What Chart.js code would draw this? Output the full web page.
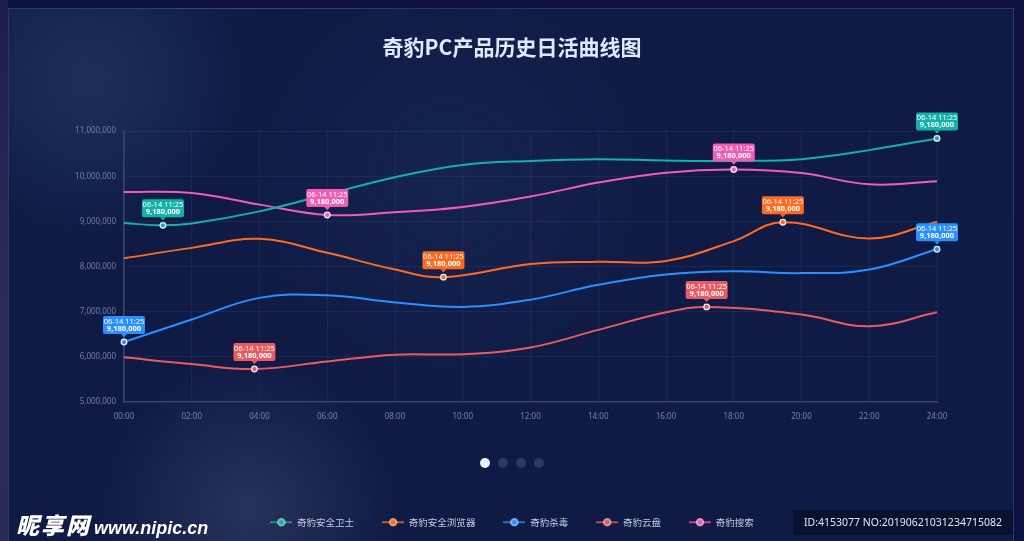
<!DOCTYPE html>
<html lang="zh">
<head>
    <meta charset="UTF-8">
    <title>奇豹PC产品历史日活曲线图</title>
    <script src="https://cdn.jsdelivr.net/npm/chart.js"></script>
    <style>
        html, body {
            margin: 0;
            padding: 0;
            width: 1024px;
            height: 541px;
            overflow: hidden;
            background: #0d1142;
            font-family: "Noto Sans", "Noto Sans CJK SC", sans-serif;
        }
        .edge {
            position: absolute;
            left: 0; top: 0; width: 8px; height: 541px;
            background: linear-gradient(180deg, #1c1d4e 0%, #2c2e58 60%, #2a2c55 100%);
        }
        .panel {
            position: absolute;
            left: 8px; top: 8px;
            width: 1006px; height: 540px;
            border: 1px solid rgba(110, 140, 200, 0.28);
            box-sizing: border-box;
            background:
                radial-gradient(circle at 80px 70px, rgba(48, 70, 120, 0.45) 0, rgba(48, 70, 120, 0) 160px),
                radial-gradient(circle at 240px 500px, rgba(70, 80, 120, 0.45) 0, rgba(70, 80, 120, 0) 150px),
                radial-gradient(circle at 440px 170px, rgba(40, 60, 110, 0.25) 0, rgba(40, 60, 110, 0) 220px),
                #0f1b45;
        }
        #chartBox {
            position: absolute;
            left: 0; top: 0;
            width: 1024px; height: 541px;
        }
        .dots {
            position: absolute;
            left: 480px; top: 458px;
            display: flex;
            gap: 8px;
        }
        .dots span {
            width: 10px; height: 10px;
            border-radius: 50%;
            background: #2d3a62;
        }
        .dots span.on { background: #e8f0ff; }
        .logo {
            position: absolute;
            left: 16px; top: 507px;
            color: #ffffff;
            white-space: nowrap;
        }
        .logo b {
            font-size: 23px;
            font-style: italic;
            font-weight: 900;
            letter-spacing: 2px;
        }
        .logo i {
            font-family: "Liberation Sans", Arial, sans-serif;
            font-size: 18px;
            font-weight: bold;
            margin-left: 3px;
        }
        .stamp {
            position: absolute;
            left: 793px; top: 510px;
            width: 220px; height: 25px;
            background: rgba(6, 14, 38, 0.7);
            color: #e4e6ec;
            font-family: "Noto Sans", sans-serif;
            font-size: 10.5px;
            line-height: 25px;
            padding-left: 11px;
            box-sizing: border-box;
            white-space: nowrap;
        }
    </style>
</head>
<body>
    <div class="edge"></div>
    <div class="panel"></div>
    <div id="chartBox"><canvas id="dauChart" width="1024" height="541"></canvas></div>
    <div class="dots"><span class="on"></span><span></span><span></span><span></span></div>
    <div class="logo"><b>昵享网</b><i>www.nipic.cn</i></div>
    <div class="stamp">ID:4153077 NO:20190621031234715082</div>

    <script>
        // series names and colours
        const seriesNames = ["奇豹安全卫士", "奇豹安全浏览器", "奇豹杀毒", "奇豹云盘", "奇豹搜索"];
        const seriesColors = ["#13b2a8", "#ff6a20", "#2a8fff", "#e95a62", "#f25cb5"];

        // values (hour of day -> daily actives)
        const guardHours = [0, 1.15, 2, 4, 6, 8, 10, 12, 14, 16, 18, 20, 22, 24];
        const guardValues = [8960000, 8910000, 8950000, 9220000, 9600000, 9980000, 10250000, 10340000, 10380000, 10350000, 10340000, 10380000, 10580000, 10840000];
        const guardMarks = [1.15, 24];

        const browserHours = [0, 2, 4, 6, 8, 9.43, 12, 14, 16, 18, 19.45, 22, 24];
        const browserValues = [8180000, 8410000, 8610000, 8300000, 7930000, 7760000, 8050000, 8100000, 8120000, 8560000, 8980000, 8620000, 8990000];
        const browserMarks = [9.43, 19.45];

        const antivirusHours = [0, 2, 4, 6, 8, 10, 12, 14, 16, 18, 20, 22, 24];
        const antivirusValues = [6320000, 6820000, 7300000, 7360000, 7200000, 7100000, 7260000, 7590000, 7820000, 7890000, 7850000, 7930000, 8380000];
        const antivirusMarks = [0, 24];

        const cloudHours = [0, 2, 3.85, 6, 8, 10, 12, 14, 16, 17.2, 20, 22, 24];
        const cloudValues = [5980000, 5830000, 5720000, 5890000, 6040000, 6050000, 6200000, 6590000, 6980000, 7100000, 6930000, 6670000, 6980000];
        const cloudMarks = [3.85, 17.2];

        const searchHours = [0, 2, 4, 6, 8, 10, 12, 14, 16, 18, 20, 22, 24];
        const searchValues = [9650000, 9630000, 9370000, 9140000, 9200000, 9320000, 9550000, 9860000, 10080000, 10150000, 10070000, 9820000, 9890000];
        const searchMarks = [6, 18];

        // tag text shown above highlighted points
        const markTime = "06-14 11:25";
        const markValue = "9,180,000";

        // axis ticks
        const yMin = 5000000, yMax = 11000000, yStep = 1000000;
        const xMin = 0, xMax = 24, xStep = 2;

        const allHours = [guardHours, browserHours, antivirusHours, cloudHours, searchHours];
        const allValues = [guardValues, browserValues, antivirusValues, cloudValues, searchValues];
        const allMarks = [guardMarks, browserMarks, antivirusMarks, cloudMarks, searchMarks];

        function legendIcon(color) {
            let c = document.createElement("canvas");
            c.width = 22; c.height = 10;
            let g = c.getContext("2d");
            g.strokeStyle = color;
            g.lineWidth = 1.5;
            g.beginPath(); g.moveTo(0, 5); g.lineTo(22, 5); g.stroke();
            g.beginPath(); g.arc(11, 5, 3.5, 0, Math.PI * 2);
            g.fillStyle = color; g.fill();
            g.strokeStyle = "rgba(255,255,255,0.85)"; g.lineWidth = 1; g.stroke();
            return c;
        }
        const icons = seriesColors.map(legendIcon);

        let datasets = seriesNames.map((name, i) => ({
            label: name,
            data: allHours[i].map((h, j) => ({ x: h, y: allValues[i][j] })),
            borderColor: seriesColors[i],
            backgroundColor: seriesColors[i],
            borderWidth: 2,
            tension: 0.4,
            fill: false,
            pointRadius: ctx => allMarks[i].includes(ctx.raw.x) ? 2.8 : 0,
            pointBorderColor: "#e6ecf7",
            pointBorderWidth: 1.3,
            pointBackgroundColor: seriesColors[i],
            clip: false
        }));

        // little labelled tags above the highlighted points
        const markTags = {
            id: "markTags",
            afterDatasetsDraw(chart) {
                let ctx = chart.ctx;
                chart.data.datasets.forEach((ds, i) => {
                    let meta = chart.getDatasetMeta(i);
                    ds.data.forEach((d, j) => {
                        if (!allMarks[i].includes(d.x)) return;
                        let p = meta.data[j];
                        let w = 42, h = 18;
                        let bx = p.x - w / 2, by = p.y - 8 - h;
                        ctx.save();
                        ctx.fillStyle = seriesColors[i];
                        ctx.beginPath();
                        ctx.roundRect(bx, by, w, h, 2);
                        ctx.fill();
                        ctx.beginPath();
                        ctx.moveTo(p.x - 3, by + h);
                        ctx.lineTo(p.x + 3, by + h);
                        ctx.lineTo(p.x, by + h + 3);
                        ctx.closePath();
                        ctx.fill();
                        ctx.fillStyle = "#ffffff";
                        ctx.textAlign = "center";
                        ctx.textBaseline = "middle";
                        ctx.font = "7.5px 'Noto Sans', sans-serif";
                        ctx.fillText(markTime, p.x, by + 5.5);
                        ctx.font = "bold 7.5px 'Noto Sans', sans-serif";
                        ctx.fillText(markValue, p.x, by + 12.8);
                        ctx.restore();
                    });
                });
            }
        };

        let ctx = document.getElementById("dauChart").getContext("2d");
        new Chart(ctx, {
            type: "line",
            data: { datasets: datasets },
            plugins: [markTags],
            options: {
                responsive: false,
                animation: false,
                layout: { padding: { left: 0, right: 0, top: 0, bottom: 4 } },
                scales: {
                    x: {
                        type: "linear",
                        min: xMin,
                        max: xMax,
                        afterFit: axis => { axis.height = 88; },
                        ticks: {
                            stepSize: xStep,
                            padding: 10,
                            color: "#7282aa",
                            font: { size: 8, family: "'Noto Sans', sans-serif" },
                            maxRotation: 0,
                            callback: v => String(v).padStart(2, "0") + ":00"
                        },
                        grid: { color: "rgba(120,150,210,0.10)", drawTicks: false },
                        border: { color: "#34466f", width: 1.5 }
                    },
                    y: {
                        min: yMin,
                        max: yMax,
                        afterFit: axis => { axis.width = 124; },
                        ticks: {
                            stepSize: yStep,
                            padding: 8,
                            color: "#6f7fa6",
                            font: { size: 8, family: "'Noto Sans', sans-serif" },
                            callback: v => v.toLocaleString("en-US")
                        },
                        grid: { color: "rgba(120,150,210,0.10)", drawTicks: false },
                        border: { color: "#34466f", width: 1.5 }
                    },
                    pad: {
                        position: "right",
                        display: true,
                        afterFit: axis => { axis.width = 87; },
                        ticks: { display: false },
                        grid: { display: false },
                        border: { display: false }
                    }
                },
                plugins: {
                    title: {
                        display: true,
                        text: "奇豹PC产品历史日活曲线图",
                        color: "#dfe9ff",
                        font: { size: 21, weight: "bold", family: "'Noto Sans CJK SC', sans-serif" },
                        padding: { top: 34, bottom: 72 }
                    },
                    legend: {
                        position: "bottom",
                        labels: {
                            usePointStyle: true,
                            pointStyleWidth: 22,
                            padding: 28,
                            color: "#c3cbe0",
                            font: { size: 9.5, family: "'Noto Sans CJK SC', sans-serif" },
                            generateLabels: chart => {
                                let items = Chart.defaults.plugins.legend.labels.generateLabels(chart);
                                items.forEach((it, i) => { it.pointStyle = icons[i]; });
                                return items;
                            }
                        }
                    },
                    tooltip: { enabled: false }
                }
            }
        });
    </script>
</body>
</html>
